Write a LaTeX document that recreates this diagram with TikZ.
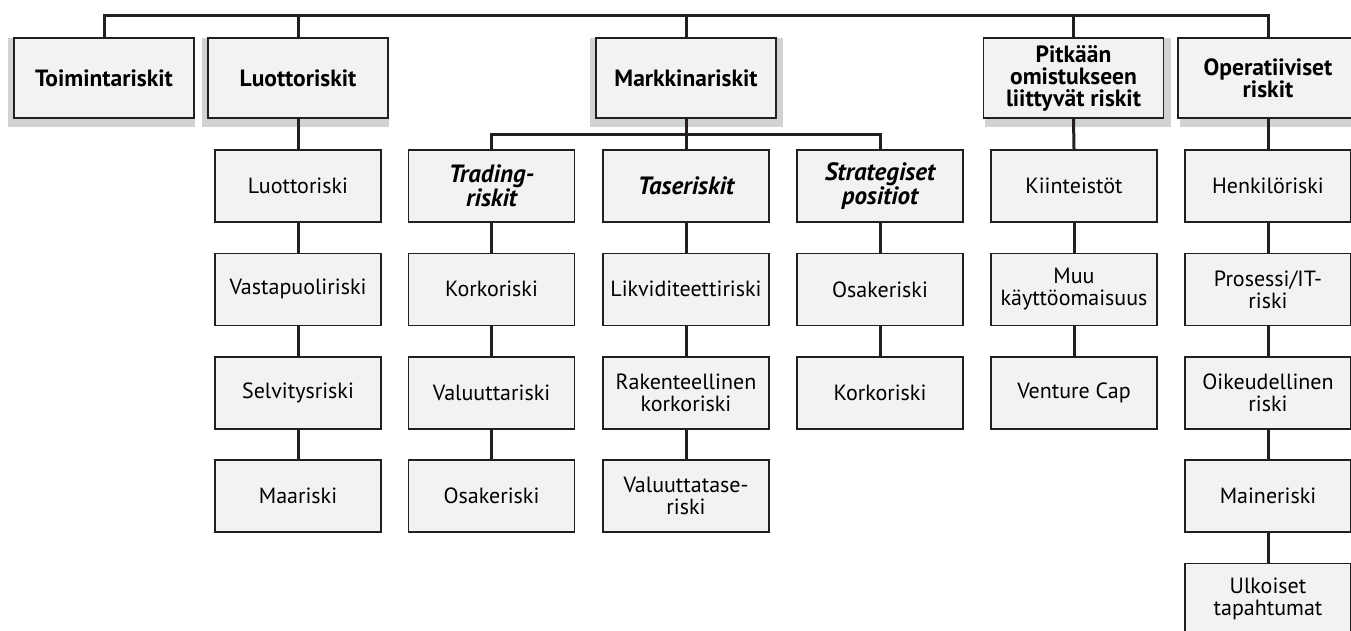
\documentclass[tikz,border=0pt]{standalone}
\usepackage{fontspec}
\setmainfont{PT Sans}
\definecolor{boxfill}{HTML}{F1F2F3}
\definecolor{shadowgray}{HTML}{D1D2D4}
\definecolor{ink}{HTML}{231F20}
\begin{document}
\begin{tikzpicture}[x=1pt,y=-1pt,
  basebox/.style={draw=ink,line width=1.6pt,fill=boxfill,inner sep=0pt,align=center,
    font=\fontsize{22}{22}\selectfont},
  topbox/.style={basebox,minimum width=180pt,minimum height=80pt,
    font=\fontsize{23.5}{22}\selectfont\bfseries},
  subbox/.style={basebox,minimum width=166pt,minimum height=72pt,
    font=\fontsize{25}{22}\selectfont\bfseries\itshape},
  leafbox/.style={basebox,minimum width=166pt,minimum height=72pt},
  shadowrect/.style={fill=shadowgray,draw=none},
  link/.style={draw=ink,line width=3pt}]
\useasboundingbox (0,0) rectangle (1351,631);
\clip (0,0) rectangle (1351,631);
% shadows
\fill[shadowrect] (8,38) rectangle (195,127);
\fill[shadowrect] (202,38) rectangle (389,127);
\fill[shadowrect] (590,38) rectangle (783,127);
\fill[shadowrect] (985,38) rectangle (1171,127);
\fill[shadowrect] (1180,38) rectangle (1365,127);
% top-level
\node[topbox] (toim) at (104,78) {Toimintariskit};
\node[topbox] (luot) at (298,78) {Luottoriskit};
\node[topbox] (mark) at (686,78) {Markkinariskit};
\node[topbox] (pitk) at (1073.5,78) {Pitkään\\omistukseen\\liittyvät riskit};
\node[topbox] (oper) at (1268,78) {Operatiiviset\\riskit};
% column Luotto
\node[leafbox] (l1) at (298,186) {Luottoriski};
\node[leafbox] (l2) at (298,289.3) {Vastapuoliriski};
\node[leafbox] (l3) at (298,392.7) {Selvitysriski};
\node[leafbox] (l4) at (298,496) {Maariski};
% Markkina sub
\node[subbox] (trad) at (491.5,186) {Trading-\\riskit};
\node[subbox] (tase) at (686,186) {Taseriskit};
\node[subbox] (stra) at (880,186) {Strategiset\\positiot};
\node[leafbox] (t2) at (491.5,289.3) {Korkoriski};
\node[leafbox] (t3) at (491.5,392.7) {Valuuttariski};
\node[leafbox] (t4) at (491.5,496) {Osakeriski};
\node[leafbox] (a2) at (686,289.3) {Likviditeettiriski};
\node[leafbox] (a3) at (686,392.7) {Rakenteellinen\\korkoriski};
\node[leafbox] (a4) at (686,496) {Valuuttatase-\\riski};
\node[leafbox] (s2) at (880,289.3) {Osakeriski};
\node[leafbox] (s3) at (880,392.7) {Korkoriski};
% Pitkaan
\node[leafbox] (p1) at (1074,186) {Kiinteistöt};
\node[leafbox] (p2) at (1074,289.3) {Muu\\käyttöomaisuus};
\node[leafbox] (p3) at (1074,392.7) {Venture Cap};
% Operatiiviset
\node[leafbox] (o1) at (1268,186) {Henkilöriski};
\node[leafbox] (o2) at (1268,289.3) {Prosessi/IT-\\riski};
\node[leafbox] (o3) at (1268,392.7) {Oikeudellinen\\riski};
\node[leafbox] (o4) at (1268,496) {Maineriski};
\node[leafbox] (o5) at (1268,599.3) {Ulkoiset\\tapahtumat};
% top connector
\coordinate (topleft) at (104,16);
\coordinate (topright) at (1268,16);
\draw[link] (toim.north) -- (toim.north |- topleft) -- (oper.north |- topright) -- (oper.north);
\draw[link] (luot.north) -- (luot.north |- topleft);
\draw[link] (mark.north) -- (mark.north |- topleft);
\draw[link] (pitk.north) -- (pitk.north |- topleft);
% market branch
\coordinate (mbar) at (686,135);
\draw[link] (mark.south) -- (mbar);
\draw[link] (trad.north) -- (trad.north |- mbar) -- (stra.north |- mbar) -- (stra.north);
\draw[link] (mbar) -- (tase.north);
% columns
\draw[link] (luot.south) -- (l1.north);
\draw[link] (l1) -- (l2);
\draw[link] (l2) -- (l3);
\draw[link] (l3) -- (l4);
\draw[link] (trad) -- (t2);
\draw[link] (t2) -- (t3);
\draw[link] (t3) -- (t4);
\draw[link] (tase) -- (a2);
\draw[link] (a2) -- (a3);
\draw[link] (a3) -- (a4);
\draw[link] (stra) -- (s2);
\draw[link] (s2) -- (s3);
\draw[link] (pitk.south) -- (p1.north);
\draw[link] (p1) -- (p2);
\draw[link] (p2) -- (p3);
\draw[link] (oper.south) -- (o1.north);
\draw[link] (o1) -- (o2);
\draw[link] (o2) -- (o3);
\draw[link] (o3) -- (o4);
\draw[link] (o4) -- (o5);
\end{tikzpicture}
\end{document}
